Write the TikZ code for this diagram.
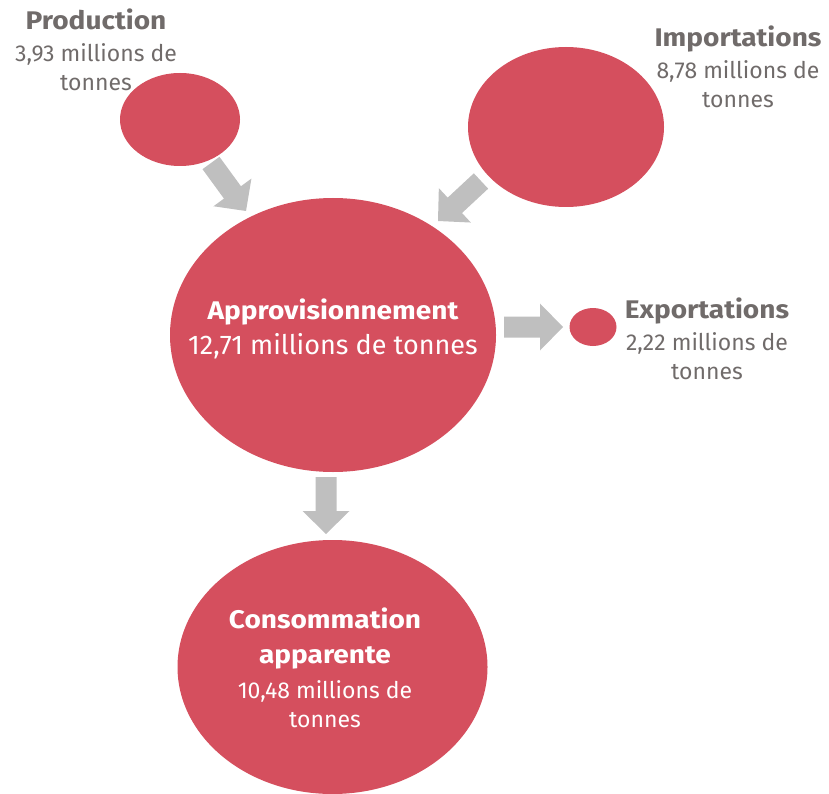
\documentclass[tikz,border=0pt]{standalone}
\usepackage{fontspec}
\setmainfont{Fira Sans}
\newfontfamily\ttlfont[FakeStretch=1.1]{Fira Sans}
\usetikzlibrary{shapes.geometric,calc}
\definecolor{blobred}{RGB}{213,79,94}
\definecolor{arrgray}{RGB}{191,191,191}
\definecolor{txtgray}{RGB}{112,107,106}
\newcommand\ttl[1]{{\ttlfont\bfseries\fontsize{25.5}{29}\selectfont #1}}
% block arrow from tail #1 to tip #2
\newcommand\blockarr[2]{%
  \coordinate (hb) at ($(#2)!23pt!(#1)$);
  \fill[arrgray] ($(#1)!10.5pt!90:(#2)$) -- ($(hb)!10.5pt!90:(#2)$) -- ($(hb)!23.5pt!90:(#2)$) -- (#2)
    -- ($(hb)!23.5pt!-90:(#2)$) -- ($(hb)!10.5pt!-90:(#2)$) -- ($(#1)!10.5pt!-90:(#2)$) -- cycle;}
\begin{document}
\begin{tikzpicture}[x=1pt,y=-1pt,
  blob/.style={ellipse, fill=blobred, inner sep=0pt},
  outlabel/.style={align=center, text=txtgray, font=\fontsize{23}{29}\selectfont, inner sep=0pt},
  inlabel/.style={align=center, text=white, font=\fontsize{23}{35}\selectfont, inner sep=0pt}]
\useasboundingbox (0,0) rectangle (829,794);
% arrow end points
\coordinate (a1t) at (211,163); \coordinate (a1h) at (246,211);
\coordinate (a2t) at (481,181); \coordinate (a2h) at (438,221);
\coordinate (a3t) at (504,327); \coordinate (a3h) at (563,327);
\coordinate (a4t) at (326,477); \coordinate (a4h) at (326,534);
\blockarr{a1t}{a1h}
\blockarr{a2t}{a2h}
\blockarr{a3t}{a3h}
\blockarr{a4t}{a4h}
% ellipses
\node[blob, minimum width=120pt, minimum height=93pt] (prod) at (180,119.5) {};
\node[blob, minimum width=196pt, minimum height=160pt] (imp) at (566,127) {};
\node[blob, minimum width=326pt, minimum height=274pt] (appro) at (333,335) {};
\node[blob, minimum width=47pt, minimum height=38pt] (exp) at (593,327) {};
\node[blob, minimum width=310pt, minimum height=254pt] (cons) at (332.5,667) {};
% labels
\node[outlabel] (prodlbl) at (96,50) {\ttl{Production}\\[3pt]3,93 millions de\\tonnes};
\node[outlabel] (implbl) at (738,67) {\ttl{Importations}\\[3pt]8,78 millions de\\tonnes};
\node[outlabel] (explbl) at (707,339) {\ttl{Exportations}\\[3pt]2,22 millions de\\tonnes};
\node[inlabel, font=\fontsize{27}{35}\selectfont] (approlbl) at (333,329) {\ttl{Approvisionnement}\\12,71 millions de tonnes};
\node[inlabel] (conslbl) at (325,668) {\ttl{Consommation}\\\ttl{apparente}\\10,48 millions de\\[-6pt]tonnes};
\end{tikzpicture}
\end{document}
